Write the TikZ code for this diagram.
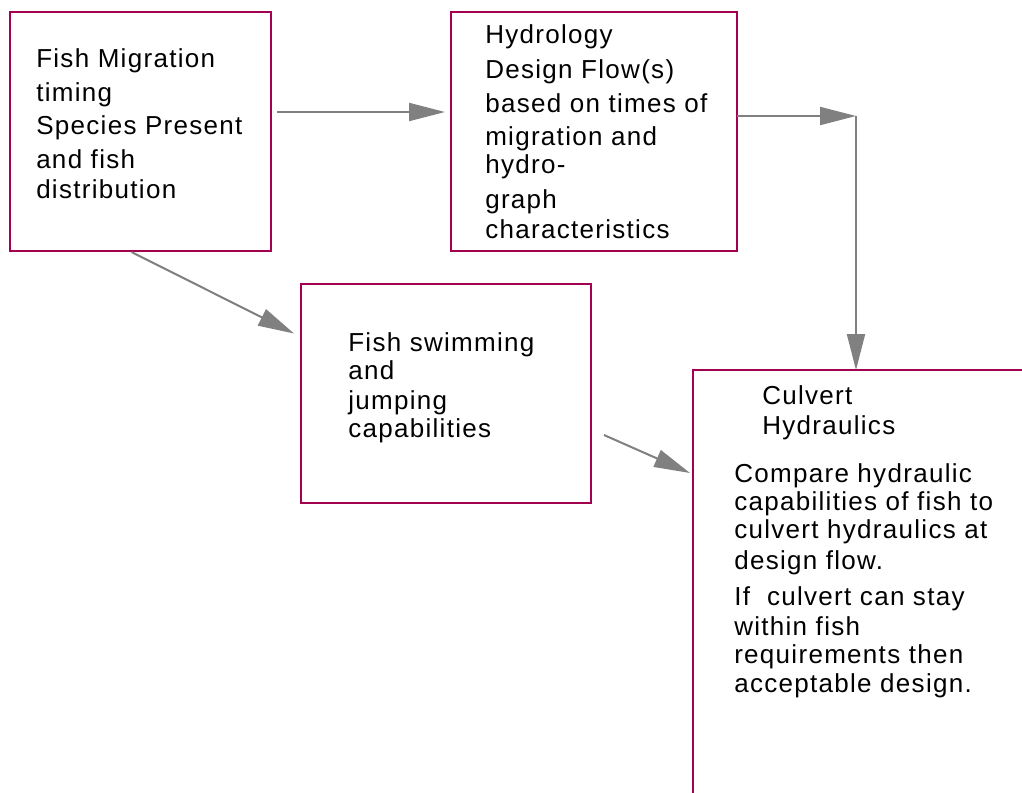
\documentclass[tikz,border=0pt]{standalone}
\usepackage{fontspec}
\setmainfont{Liberation Sans}[LetterSpace=5]
\usetikzlibrary{arrows.meta,calc}
\definecolor{boxred}{RGB}{163,0,79}
\definecolor{arrgray}{RGB}{128,128,128}
\begin{document}
\begin{tikzpicture}[x=0.75pt,y=-0.75pt,
  box/.style={draw=boxred,line width=1.5pt,rectangle,inner sep=0pt,outer sep=0pt,anchor=north west},
  txt/.style={anchor=base west,inner sep=0pt,font=\fontsize{19.5}{22}\selectfont},
  arr/.style={draw=arrgray,line width=1.5pt,-{Triangle[length=27pt,width=13.5pt]}}]
\useasboundingbox (0,0) rectangle (1022,793);
\clip (0,0) rectangle (1022,793);
\fill[white] (0,0) rectangle (1022,793);
% boxes
\node[box,minimum width=195.75pt,minimum height=179.25pt] (fm) at (10,12) {};
\node[box,minimum width=214.5pt,minimum height=179.25pt] (hy) at (451,12) {};
\node[box,minimum width=217.5pt,minimum height=164.25pt] (sw) at (301,284) {};
\node[box,minimum width=300pt,minimum height=375pt] (cu) at (693,370) {};
% texts
\foreach \y/\t [count=\i] in {67/Fish Migration,101/timing,134/Species Present,168/and fish,198/distribution}
  \node[txt] (fmt\i) at (36,\y) {\t};
\foreach \y/\t [count=\i] in {43/Hydrology,78/Design Flow(s),112/based on times of,145/migration and,173/hydro-,208/graph,238/characteristics}
  \node[txt] (hyt\i) at (485,\y) {\t};
\foreach \y/\t [count=\i] in {351/Fish swimming,379/and,409/jumping,437/capabilities}
  \node[txt] (swt\i) at (348,\y) {\t};
\foreach \y/\t [count=\i] in {404/Culvert,434/Hydraulics}
  \node[txt] (cut\i) at (762,\y) {\t};
\foreach \y/\t [count=\i] in {482/Compare hydraulic,510/capabilities of fish to,538/culvert hydraulics at,569/design flow.,605/If~~culvert can stay,635/within fish,663/requirements then,692/acceptable design.}
  \node[txt] (cub\i) at (734,\y) {\t};
% connectors
\coordinate (j) at (856,116);
\draw[arr] ([shift={(6,-19.5)}]fm.east) -- ([shift={(-6,-19.5)}]hy.west);
\draw[arr] ([shift={(0,-15.5)}]hy.east) -- (j);
\draw[arr] (j) -- (j |- cu.north);
\draw[arr] ([shift={(-9,1)}]fm.south) -- ([shift={(-7,-60)}]sw.west);
\draw[arr] ([shift={(13,41.5)}]sw.east) -- ([shift={(-3,103)}]cu.north west);
\end{tikzpicture}
\end{document}
